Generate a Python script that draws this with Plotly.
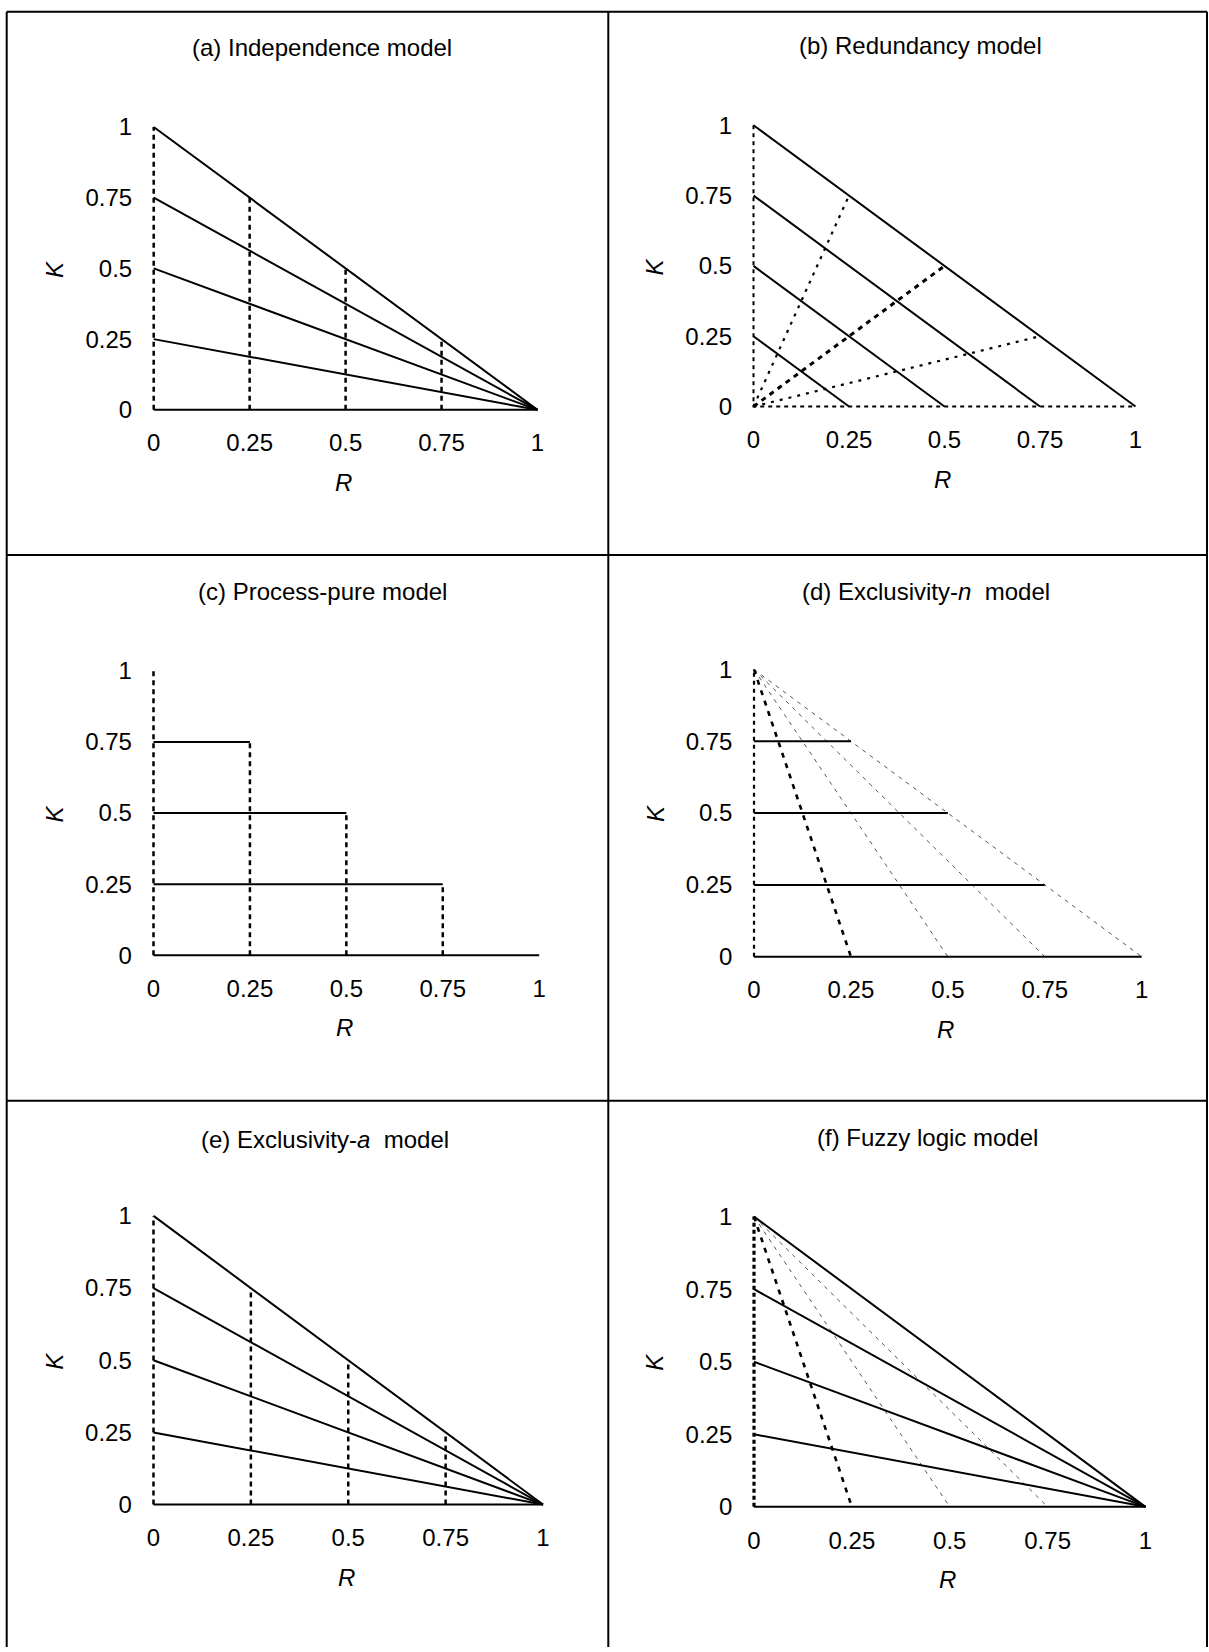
import plotly.graph_objects as go

# ---------------- data ----------------
TICK_VALS = [0, 0.25, 0.5, 0.75, 1]
TICK_TEXT = ["0", "0.25", "0.5", "0.75", "1"]

PANEL_TITLES = [
    "(a) Independence model",
    "(b) Redundancy model",
    "(c) Process-pure model",
    "(d) Exclusivity-<i>n</i>  model",
    "(e) Exclusivity-<i>a</i>  model",
    "(f) Fuzzy logic model",
]
X_TITLE = "<i>R</i>"
Y_TITLE = "<i>K</i>"

# (a) Independence model: K against R, one solid line per starting K
A_R = [0, 0.25, 0.5, 0.75, 1]
A_K_100 = [1, 0.75, 0.5, 0.25, 0]
A_K_075 = [0.75, 0.5625, 0.375, 0.1875, 0]
A_K_050 = [0.5, 0.375, 0.25, 0.125, 0]
A_K_025 = [0.25, 0.1875, 0.125, 0.0625, 0]
A_K_000 = [0, 0, 0, 0, 0]
A_VERT_R = [0, 0.25, 0.5, 0.75]
A_VERT_TOP = [1, 0.75, 0.5, 0.25]

# (b) Redundancy model
B_SOLID_K0 = [1, 0.75, 0.5, 0.25]          # lines from (0,k0) to (k0,0)
B_FRAME_R = [0, 0, 1]
B_FRAME_K = [1, 0, 0]
B_C1_R = [0, 0.0625, 0.125, 0.1875, 0.25]
B_C1_K = [0, 0.1875, 0.375, 0.5625, 0.75]
B_C2_R = [0, 0.125, 0.25, 0.375, 0.5]
B_C2_K = [0, 0.125, 0.25, 0.375, 0.5]
B_C3_R = [0, 0.1875, 0.375, 0.5625, 0.75]
B_C3_K = [0, 0.0625, 0.125, 0.1875, 0.25]

# (c) Process-pure model
C_LEVEL_K = [0.75, 0.5, 0.25, 0]
C_LEVEL_END_R = [0.25, 0.5, 0.75, 1]
C_VERT_R = [0, 0.25, 0.5, 0.75]
C_VERT_TOP = [1, 0.75, 0.5, 0.25]

# (d) Exclusivity-n model
D_LEVEL_K = [0.75, 0.5, 0.25, 0]
D_LEVEL_END_R = [0.25, 0.5, 0.75, 1]
D_FAN_K = [1, 0.75, 0.5, 0.25, 0]
D_FAN_R_025 = [0, 0.0625, 0.125, 0.1875, 0.25]
D_FAN_R_050 = [0, 0.125, 0.25, 0.375, 0.5]
D_FAN_R_075 = [0, 0.1875, 0.375, 0.5625, 0.75]
D_FAN_R_100 = [0, 0.25, 0.5, 0.75, 1]

# (e) Exclusivity-a model
E_R = [0, 0.25, 0.5, 0.75, 1]
E_K_100 = [1, 0.75, 0.5, 0.25, 0]
E_K_075 = [0.75, 0.5625, 0.375, 0.1875, 0]
E_K_050 = [0.5, 0.375, 0.25, 0.125, 0]
E_K_025 = [0.25, 0.1875, 0.125, 0.0625, 0]
E_K_000 = [0, 0, 0, 0, 0]
E_VERT_R = [0, 0.25, 0.5, 0.75]
E_VERT_TOP = [1, 0.75, 0.5, 0.25]

# (f) Fuzzy logic model
F_R = [0, 0.25, 0.5, 0.75, 1]
F_K_100 = [1, 0.75, 0.5, 0.25, 0]
F_K_075 = [0.75, 0.5625, 0.375, 0.1875, 0]
F_K_050 = [0.5, 0.375, 0.25, 0.125, 0]
F_K_025 = [0.25, 0.1875, 0.125, 0.0625, 0]
F_K_000 = [0, 0, 0, 0, 0]
F_FAN_025_R = [0, 0.077, 0.143, 0.2, 0.25]
F_FAN_025_K = [1, 0.692, 0.429, 0.2, 0]
F_FAN_050_R = [0, 0.2, 0.333, 0.429, 0.5]
F_FAN_050_K = [1, 0.6, 0.333, 0.143, 0]
F_FAN_075_R = [0, 0.429, 0.6, 0.692, 0.75]
F_FAN_075_K = [1, 0.429, 0.2, 0.077, 0]
F_AXIS_R = [0, 0]
F_AXIS_K = [0, 1]

# ---------------- geometry & style ----------------
W, H = 1209, 1652
PAD = 0.03
FONT = "Liberation Sans, Arial, sans-serif"
FS = 24

# pixel positions of data 0 / 1 on each panel, title centre
PX = [
    dict(x0=153.7, x1=537.5, y1=122.7, y0=407.3, tx=322, ty=43),
    dict(x0=753.5, x1=1135.5, y1=121.0, y0=404.0, tx=920, ty=41),
    dict(x0=153.5, x1=539.2, y1=670.0, y0=956.0, tx=322.6, ty=590),
    dict(x0=754.0, x1=1141.7, y1=668.5, y0=957.5, tx=926, ty=590),
    dict(x0=153.5, x1=543.0, y1=1218.3, y0=1508.7, tx=324.7, ty=1141.6),
    dict(x0=754.0, x1=1145.5, y1=1219.0, y0=1511.0, tx=927, ty=1139),
]

SOLID = dict(color="black", width=2)
VDOT = dict(color="black", width=2.5, dash="5px,4px")
BFRAME = dict(color="black", width=2, dash="4px,4px")
BCURVE = dict(color="black", width=2.2, dash="3px,6px")
BCURVE_BOLD = dict(color="black", width=3, dash="5px,5px")
FAN_THIN = dict(color="#555555", width=1, dash="4px,5px")
FAN_BOLD = dict(color="black", width=2.6, dash="5px,6px")
D_AXIS = dict(color="black", width=2.2, dash="4px,4px")
F_AXIS = dict(color="black", width=3.2, dash="4px,3px")

fig = go.Figure()


def line(panel, xs, ys, style):
    n = panel + 1
    fig.add_trace(go.Scatter(
        x=xs, y=ys, mode="lines", line=style, showlegend=False,
        hoverinfo="skip", xaxis="x" if n == 1 else f"x{n}",
        yaxis="y" if n == 1 else f"y{n}"))


# (a)
for r, top in zip(A_VERT_R, A_VERT_TOP):
    line(0, [r, r], [0, top], VDOT)
for ks in (A_K_100, A_K_075, A_K_050, A_K_025, A_K_000):
    line(0, A_R, ks, SOLID)

# (b)
line(1, B_FRAME_R, B_FRAME_K, BFRAME)
line(1, B_C1_R, B_C1_K, BCURVE)
line(1, B_C2_R, B_C2_K, BCURVE_BOLD)
line(1, B_C3_R, B_C3_K, BCURVE)
for k0 in B_SOLID_K0:
    line(1, [0, k0], [k0, 0], SOLID)

# (c)
for r, top in zip(C_VERT_R, C_VERT_TOP):
    line(2, [r, r], [0, top], VDOT)
for k, end in zip(C_LEVEL_K, C_LEVEL_END_R):
    line(2, [0, end], [k, k], SOLID)

# (d)
line(3, [0, 0], [0, 1], D_AXIS)
for rs in (D_FAN_R_050, D_FAN_R_075, D_FAN_R_100):
    line(3, rs, D_FAN_K, FAN_THIN)
line(3, D_FAN_R_025, D_FAN_K, FAN_BOLD)
for k, end in zip(D_LEVEL_K, D_LEVEL_END_R):
    line(3, [0, end], [k, k], SOLID)

# (e)
for r, top in zip(E_VERT_R, E_VERT_TOP):
    line(4, [r, r], [0, top], VDOT)
for ks in (E_K_100, E_K_075, E_K_050, E_K_025, E_K_000):
    line(4, E_R, ks, SOLID)

# (f)
line(5, F_AXIS_R, F_AXIS_K, F_AXIS)
line(5, F_FAN_050_R, F_FAN_050_K, FAN_THIN)
line(5, F_FAN_075_R, F_FAN_075_K, FAN_THIN)
line(5, F_FAN_025_R, F_FAN_025_K, FAN_BOLD)
for ks in (F_K_100, F_K_075, F_K_050, F_K_025, F_K_000):
    line(5, F_R, ks, SOLID)

layout = dict(
    width=W, height=H, autosize=False,
    margin=dict(l=0, r=0, t=0, b=0, pad=0),
    paper_bgcolor="white", plot_bgcolor="white",
    font=dict(family=FONT, size=FS, color="black"),
    showlegend=False,
)

annotations = []
for i, p in enumerate(PX):
    n = i + 1
    sx = p["x1"] - p["x0"]
    sy = p["y0"] - p["y1"]
    xd = [(p["x0"] - PAD * sx) / W, (p["x1"] + PAD * sx) / W]
    yd = [1 - (p["y0"] + PAD * sy) / H, 1 - (p["y1"] - PAD * sy) / H]
    xk = "xaxis" if n == 1 else f"xaxis{n}"
    yk = "yaxis" if n == 1 else f"yaxis{n}"
    common = dict(range=[-PAD, 1 + PAD], tickmode="array", tickvals=TICK_VALS,
                  ticktext=TICK_TEXT, showgrid=False, zeroline=False,
                  showline=False, ticks="", fixedrange=True,
                  tickfont=dict(family=FONT, size=FS, color="black"))
    layout[xk] = dict(common, domain=xd, anchor="y" if n == 1 else f"y{n}",
                      ticklabelstandoff=8)
    layout[yk] = dict(common, domain=yd, anchor="x" if n == 1 else f"x{n}",
                      ticklabelstandoff=9)
    annotations.append(dict(text=PANEL_TITLES[i], x=p["tx"] / W, y=1 - p["ty"] / H,
                            xref="paper", yref="paper", xanchor="center",
                            yanchor="middle", showarrow=False,
                            font=dict(family=FONT, size=FS, color="black")))
    annotations.append(dict(text=X_TITLE, x=((p["x0"] + p["x1"]) / 2 - 2) / W,
                            y=1 - (p["y0"] + 73) / H, xref="paper", yref="paper",
                            xanchor="center", yanchor="middle", showarrow=False,
                            font=dict(family=FONT, size=FS, color="black")))
    annotations.append(dict(text=Y_TITLE, x=(p["x0"] - 99) / W,
                            y=1 - ((p["y0"] + p["y1"]) / 2 + 1) / H,
                            xref="paper", yref="paper", textangle=-90,
                            xanchor="center", yanchor="middle", showarrow=False,
                            font=dict(family=FONT, size=FS, color="black")))
layout["annotations"] = annotations

# table borders
BX_L, BX_M, BX_R = 6.7, 608.3, 1207.0
BY_T, BY_1, BY_2, BY_B = 6.7, 553.3, 1102.5, 1652
shapes = []
def seg(x0, y0, x1, y1):
    shapes.append(dict(type="line", xref="paper", yref="paper",
                       x0=x0 / W, x1=x1 / W, y0=1 - y0 / H, y1=1 - y1 / H,
                       line=dict(color="black", width=2)))
seg(BX_L, BY_T, BX_R, BY_T)
seg(BX_L, BY_T, BX_L, BY_B)
seg(BX_R, BY_T, BX_R, BY_B)
seg(BX_M, BY_T, BX_M, BY_B)
seg(BX_L, BY_1, BX_R, BY_1)
seg(BX_L, BY_2, BX_R, BY_2)
layout["shapes"] = shapes

fig.update_layout(**layout)
fig.write_html("out.html", config={"staticPlot": True},
               post_script="document.body.style.margin='0px';document.body.style.overflow='hidden';")
